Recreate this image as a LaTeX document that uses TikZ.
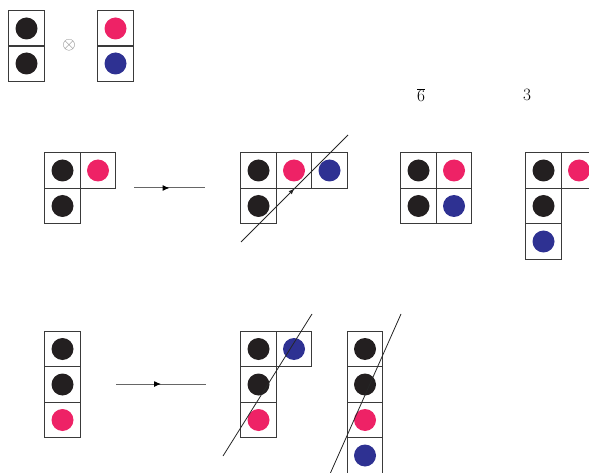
\documentclass[tikz,border=0pt]{standalone}
\usetikzlibrary{decorations.markings,arrows.meta}
\definecolor{dotblack}{HTML}{231F20}
\definecolor{dotpink}{HTML}{EE2266}
\definecolor{dotblue}{HTML}{2E3192}
\definecolor{boxline}{HTML}{3A3A3A}
\tikzset{
  cell/.style={draw=boxline, line width=1pt, minimum size=35.5pt, inner sep=0pt, outer sep=0pt,
    path picture={\fill[#1] (path picture bounding box.center) circle (11pt);}},
  conn/.style={draw=gray!80!black, line width=1pt, postaction={decorate},
    decoration={markings, mark=at position 0.5 with {\arrow{Latex[length=7pt,width=6pt,black]}}}},
  cutline/.style={draw=black!85, line width=0.8pt},
  cutarrow/.style={cutline, postaction={decorate},
    decoration={markings, mark=at position 0.5 with {\arrow{Latex[length=6pt,width=4.5pt]}}}},
  lab/.style={font=\fontsize{17}{20}\selectfont, inner sep=0pt}
}
\begin{document}
\begin{tikzpicture}[x=1pt,y=-1pt]
\useasboundingbox (0,0) rectangle (589,473);
\clip (0,0) rectangle (589,473);
% top tensor product
\node[cell=dotblack] (t11) at (26.5,28.5) {};
\node[cell=dotblack] (t12) at (26.5,63.5) {};
\node[text=black!55, font=\fontsize{18}{20}\selectfont, inner sep=0pt] (ot) at (69,45) {$\otimes$};
\node[cell=dotpink] (t21) at (115.5,28.5) {};
\node[cell=dotblue] (t22) at (115.5,63.5) {};
% labels
\node[lab] (l6) at (421,95) {$\overline{6}$};
\node[lab] (l3) at (527,95) {$3$};
% row 1, A
\node[cell=dotblack] (a1) at (62.5,170.5) {};
\node[cell=dotpink] (a2) at (98,170.5) {};
\node[cell=dotblack] (a3) at (62.5,206) {};
\coordinate (ar1s) at (134,188);
\coordinate (ar1e) at (205,188);
\draw[conn] (ar1s) -- (ar1e);
% row 1, B
\node[cell=dotblack] (b1) at (258.5,170.5) {};
\node[cell=dotpink] (b2) at (294,170.5) {};
\node[cell=dotblue] (b3) at (329.5,170.5) {};
\node[cell=dotblack] (b4) at (258.5,206) {};
\coordinate (bl1) at (241,242);
\coordinate (bl2) at (348,135);
\draw[cutarrow] (bl1) -- (bl2);
% row 1, C
\node[cell=dotblack] (c1) at (418.5,170.5) {};
\node[cell=dotpink] (c2) at (454,170.5) {};
\node[cell=dotblack] (c3) at (418.5,206) {};
\node[cell=dotblue] (c4) at (454,206) {};
% row 1, D
\node[cell=dotblack] (d1) at (543.5,170.5) {};
\node[cell=dotpink] (d2) at (579,170.5) {};
\node[cell=dotblack] (d3) at (543.5,206) {};
\node[cell=dotblue] (d4) at (543.5,241.5) {};
% row 2, E
\node[cell=dotblack] (e1) at (62.5,349) {};
\node[cell=dotblack] (e2) at (62.5,384.5) {};
\node[cell=dotpink] (e3) at (62.5,420) {};
\coordinate (ar2s) at (116,384);
\coordinate (ar2e) at (206,384);
\draw[conn] (ar2s) -- (ar2e);
% row 2, F
\node[cell=dotblack] (f1) at (258.5,349) {};
\node[cell=dotblue] (f2) at (294,349) {};
\node[cell=dotblack] (f3) at (258.5,384.5) {};
\node[cell=dotpink] (f4) at (258.5,420) {};
\coordinate (fl1) at (223,456);
\coordinate (fl2) at (312,314);
\draw[cutline] (fl1) -- (fl2);
% row 2, G
\node[cell=dotblack] (g1) at (365,349) {};
\node[cell=dotblack] (g2) at (365,384.5) {};
\node[cell=dotpink] (g3) at (365,420) {};
\node[cell=dotblue] (g4) at (365,455.5) {};
\coordinate (gl1) at (330,474);
\coordinate (gl2) at (401,314);
\draw[cutline] (gl1) -- (gl2);
\end{tikzpicture}
\end{document}
